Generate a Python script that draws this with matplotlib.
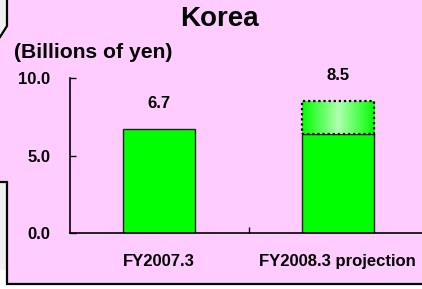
import matplotlib
matplotlib.use('Agg')
import matplotlib.pyplot as plt
import numpy as np
from matplotlib.patches import Polygon, Rectangle
from matplotlib.colors import LinearSegmentedColormap

plt.rcParams['font.family'] = ['Liberation Sans', 'DejaVu Sans']
plt.rcParams['font.weight'] = 'bold'

# data
categories = ['FY2007.3', 'FY2008.3 projection']
actual = [6.7, 6.4]          # solid part of each bar
projection = [None, 8.5]     # dotted projection top (second bar only)
value_labels = ['6.7', '8.5']
yticks = [0.0, 5.0, 10.0]

W, H = 422, 289
fig = plt.figure(figsize=(W / 100, H / 100), dpi=100, facecolor='white')

def px(x, y):
    return (x / W, 1 - y / H)

pink = '#FFCCFF'
gray = '#F0F0F0'

# background shapes (pixel coords -> figure fraction)
fig.patches.append(Rectangle(px(0, 270), 7 / W, (270 - 182) / H, transform=fig.transFigure,
                             facecolor=gray, edgecolor='none', zorder=-3))
fig.patches.append(Polygon([px(0, 0), px(7, 0), px(7, 26), px(0, 37)], closed=True,
                           transform=fig.transFigure, facecolor=gray, edgecolor='none', zorder=-3))
panel = [px(7, 0), px(W + 5, 0), px(W + 5, 284), px(7, 284), px(7, 182), px(0, 182),
         px(0, 37), px(7, 26)]
fig.patches.append(Polygon(panel, closed=True, transform=fig.transFigure,
                           facecolor=pink, edgecolor='none', zorder=-3))
for pts in ([px(7, 0), px(7, 26), px(0, 37)],
            [px(0, 182), px(7, 182), px(7, 284), px(W + 5, 284)]):
    xs, ys = zip(*pts)
    fig.lines.append(plt.Line2D(xs, ys, transform=fig.transFigure, color='black',
                                lw=1.6, solid_joinstyle='miter', zorder=-2))

ax = fig.add_axes([70 / W, 1 - 233 / H, 357 / W, 155 / H])
ax.patch.set_visible(False)

x = np.arange(len(categories))
bw = 0.405
ax.bar(x, actual, width=bw, color='#00FF00', edgecolor='#222222', linewidth=1.0, zorder=2)

# projection box with gradient fill
cmap = LinearSegmentedColormap.from_list('g', ['#00FF00', '#B0FFB0', '#00FF00'])
grad = np.linspace(0, 1, 256).reshape(1, -1)
for i, top in enumerate(projection):
    if top is None:
        continue
    ax.imshow(grad, cmap=cmap, aspect='auto', extent=[x[i] - bw / 2, x[i] + bw / 2, actual[i], top],
              zorder=3)
    ax.add_patch(Rectangle((x[i] - bw / 2, actual[i]), bw, top - actual[i], fill=False,
                           edgecolor='black', linewidth=1.6, linestyle=(0, (1, 1.3)), zorder=4))

tops = [actual[0], projection[1]]
for i, t in enumerate(tops):
    ax.text(x[i], t + 1.65, value_labels[i], ha='center', va='center', fontsize=12,
            fontweight='bold', clip_on=False)

ax.set_xlim(-0.5, 1.5)
ax.set_ylim(0, 10)
ax.set_yticks(yticks)
ax.set_yticklabels(['%.1f' % v for v in yticks])
ax.set_xticks(x)
ax.set_xticklabels(categories)
ax.set_xticks([0.5], minor=True)
ax.tick_params(axis='x', which='major', length=0, pad=15, labelsize=12)
ax.tick_params(axis='x', which='minor', direction='in', length=4, width=1)
ax.tick_params(axis='y', direction='in', length=4, width=1, pad=14, labelsize=12)
for lab in ax.get_xticklabels() + ax.get_yticklabels():
    lab.set_fontweight('bold')
ax.spines['top'].set_visible(False)
ax.spines['right'].set_visible(False)
ax.spines['left'].set_linewidth(1.2)
ax.spines['bottom'].set_linewidth(1.2)

fig.text(219 / W, 1 - 19 / H, 'Korea', ha='center', va='center', fontsize=20, fontweight='bold')
fig.text(14 / W, 1 - 52 / H, '(Billions of yen)', ha='left', va='center', fontsize=15.2,
         fontweight='bold')

fig.savefig('out.png', dpi=100, facecolor='white')
